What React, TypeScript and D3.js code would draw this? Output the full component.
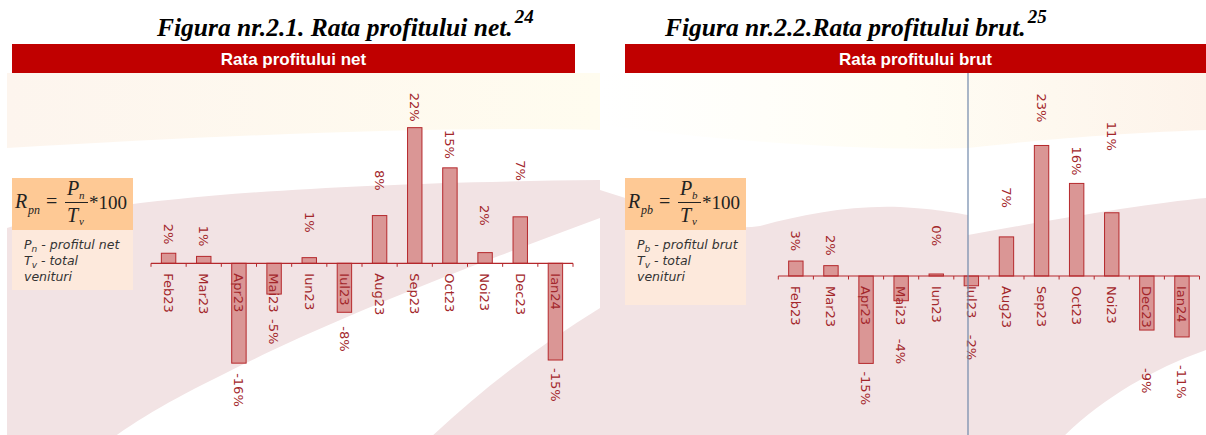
import React from "react";
import * as d3 from "d3";

// Months shown on both charts
const months = ["Feb23", "Mar23", "Apr23", "Mai23", "Iun23", "Iul23", "Aug23", "Sep23", "Oct23", "Noi23", "Dec23", "Ian24"];

// Net profit rate, % (labels show the rounded value)
const netRate = [1.6, 1.1, -15.9, -4.9, 0.9, -7.8, 7.6, 21.6, 15.2, 1.7, 7.4, -15.4];
// Gross profit rate, %
const grossRate = [2.6, 1.8, -15.2, -4.3, 0.35, -1.7, 6.8, 22.7, 16.1, 11.0, -9.4, -10.6];

// Distance (px) between a bar end and its value label
const netLabelGap = [9, 10, 10, 25, 25, 14, 25, 6, 9, 27, 36, 8];
const grossLabelGap = [10, 10, 8, 38, 28, 49, 29, 23, 8, 62, 38, 28];

const W = 1206;
const H = 435;
const RED = "#c00000";
const LABEL = "#a3272b";
const BAR_FILL = "#da9695";
const BAR_STROKE = "#b5282c";
const PINK = "#f2e3e4";
const SANS = "DejaVu Sans";
const SERIF = "Liberation Serif";

const fmt = (v: number) => `${Math.round(v)}%`;

type BarsProps = {
  values: number[];
  gaps: number[];
  x0: number;
  x1: number;
  baseline: number;
  pxPerPct: number;
};

function Bars({ values, gaps, x0, x1, baseline, pxPerPct }: BarsProps) {
  const x = d3.scaleBand<string>().domain(months).range([x0, x1]).paddingInner(0.59).paddingOuter(0.295);
  const y = d3
    .scaleLinear()
    .domain([-20, 25])
    .range([baseline + 20 * pxPerPct, baseline - 25 * pxPerPct]);
  const step = x.step();
  const ticks = d3.range(months.length + 1).map((i) => x0 + i * step);
  const y0 = y(0);
  return (
    <g>
      {months.map((m, i) => {
        const v = values[i];
        const top = Math.min(y(v), y0);
        const h = Math.abs(y(v) - y0);
        return (
          <rect
            key={m}
            x={x(m)}
            y={top}
            width={x.bandwidth()}
            height={Math.max(h, 0.5)}
            fill={BAR_FILL}
            stroke={BAR_STROKE}
            strokeWidth={1}
          />
        );
      })}
      <line x1={x0} x2={x1} y1={y0} y2={y0} stroke={BAR_STROKE} strokeWidth={1.2} />
      {ticks.map((t, i) => (
        <line key={i} x1={t} x2={t} y1={y0} y2={y0 + 3.5} stroke={BAR_STROKE} strokeWidth={1} />
      ))}
      {months.map((m) => {
        const cx = (x(m) ?? 0) + x.bandwidth() / 2;
        return (
          <text
            key={m}
            transform={`translate(${cx},${y0 + 10}) rotate(90)`}
            dy="0.36em"
            fontFamily={SANS}
            fontSize={13}
            fill={LABEL}
          >
            {m}
          </text>
        );
      })}
      {months.map((m, i) => {
        const v = values[i];
        const cx = (x(m) ?? 0) + x.bandwidth() / 2;
        const pos = v >= 0;
        const ly = pos ? y(v) - gaps[i] : y(v) + gaps[i];
        return (
          <text
            key={m}
            transform={`translate(${cx},${ly}) rotate(90)`}
            dy="0.36em"
            textAnchor={pos ? "end" : "start"}
            fontFamily={SANS}
            fontSize={13}
            fill={LABEL}
          >
            {fmt(v)}
          </text>
        );
      })}
    </g>
  );
}

function Title({ x, text, sup }: { x: number; text: string; sup: string }) {
  return (
    <text x={x} y={36} fontFamily={SERIF} fontWeight="bold" fontStyle="italic" fontSize={25.5} fill="#000">
      {text}
      <tspan dx={2} dy={-13} fontSize={19}>
        {sup}
      </tspan>
    </text>
  );
}

function Header({ x, w, text }: { x: number; w: number; text: string }) {
  return (
    <g>
      <rect x={x} y={44} width={w} height={29} fill={RED} />
      <text
        x={x + w / 2}
        y={64.5}
        textAnchor="middle"
        fontFamily="Liberation Sans"
        fontWeight="bold"
        fontSize={17}
        fill="#fff"
      >
        {text}
      </text>
    </g>
  );
}

function Formula({ x, y, sub, top, legend, lightH }: { x: number; y: number; sub: string; top: string; legend: string; lightH: number }) {
  const it = { fontFamily: SERIF, fontStyle: "italic" as const, fill: "#222" };
  return (
    <g>
      <rect x={x} y={y} width={121} height={52} fill="#fec995" />
      <rect x={x} y={y + 52} width={121} height={lightH} fill="#fde9dc" />
      <text x={x + 3} y={y + 30} fontSize={20} {...it}>R</text>
      <text x={x + 16} y={y + 36} fontSize={12} {...it}>{sub}</text>
      <text x={x + 34} y={y + 30} fontSize={20} fontFamily={SERIF} fill="#222">=</text>
      <text x={x + 55} y={y + 17} fontSize={20} {...it}>P</text>
      <text x={x + 67} y={y + 21} fontSize={11} {...it}>{top}</text>
      <line x1={x + 53} x2={x + 76} y1={y + 24.5} y2={y + 24.5} stroke="#222" strokeWidth={1} />
      <text x={x + 55} y={y + 44} fontSize={20} {...it}>T</text>
      <text x={x + 67} y={y + 47} fontSize={11} {...it}>v</text>
      <text x={x + 77} y={y + 31} fontSize={19} fontFamily={SERIF} fill="#222">
        *100
      </text>
      <g fontFamily={SANS} fontStyle="italic" fontSize={12.5} fill="#333">
        <text x={x + 12} y={y + 71}>
          P<tspan fontSize={9} dy={3}>{top}</tspan>
          <tspan dy={-3}> - profitul {legend}</tspan>
        </text>
        <text x={x + 12} y={y + 87}>
          T<tspan fontSize={9} dy={3}>v</tspan>
          <tspan dy={-3}> - total</tspan>
        </text>
        <text x={x + 12} y={y + 103}>venituri</text>
      </g>
    </g>
  );
}

export default function App() {
  return (
    <svg
      width={W}
      height={H}
      viewBox={`0 0 ${W} ${H}`}
      style={{ position: "absolute", left: 0, top: 0, display: "block", background: "#fff" }}
    >
      <defs>
        <linearGradient id="beigeL" x1="0" x2="1" y1="0" y2="0">
          <stop offset="0" stopColor="#fdf5ee" />
          <stop offset="1" stopColor="#fffcef" />
        </linearGradient>
        <linearGradient id="beigeR" x1="0" x2="1" y1="0" y2="0">
          <stop offset="0" stopColor="#ffffff" />
          <stop offset="0.5" stopColor="#fffdf4" />
          <stop offset="1" stopColor="#fdf3ea" />
        </linearGradient>
        <clipPath id="clipL">
          <rect x={7} y={73} width={593} height={H - 73} />
        </clipPath>
        <clipPath id="clipR">
          <rect x={600} y={73} width={W - 600} height={H - 73} />
        </clipPath>
      </defs>

      {/* decorative backdrop, left chart */}
      <g clipPath="url(#clipL)">
        <path d="M7,73 H600 V130 C 450,126 250,134 7,148 Z" fill="url(#beigeL)" />
        <path
          d="M7,228 C 100,200 300,183 600,180 V218 C 500,255 380,300 273,350 C 200,385 150,410 110,440 H7 Z"
          fill={PINK}
        />
        <path d="M600,308 C 540,345 480,390 428,440 H600 Z" fill={PINK} />
      </g>

      {/* decorative backdrop, right chart */}
      <g clipPath="url(#clipR)">
        <path d="M600,73 H1206 V130 C 1100,134 1020,142 968,148 C 850,152 700,138 600,125 Z" fill="url(#beigeR)" />
        <path
          d="M600,190 C 680,215 720,232 760,226 C 800,215 850,205 900,207 C 940,209 960,214 968,215 L968,235 C 1050,220 1150,203 1206,198 V350 C 1150,370 1100,400 1060,440 H600 Z"
          fill={PINK}
        />
      </g>

      <Title x={157} text="Figura nr.2.1. Rata profitului net." sup="24" />
      <Title x={665} text="Figura nr.2.2.Rata profitului brut." sup="25" />

      <Header x={12} w={563} text="Rata profitului net" />
      <Header x={625} w={W - 625} text="Rata profitului brut" />

      <Formula x={12} y={178} sub="pn" top="n" legend="net" lightH={60} />
      <Formula x={625} y={178} sub="pb" top="b" legend="brut" lightH={75} />

      <Bars values={netRate} gaps={netLabelGap} x0={151} x1={573} baseline={263.3} pxPerPct={6.28} />
      <Bars values={grossRate} gaps={grossLabelGap} x0={778.3} x1={1199.5} baseline={276} pxPerPct={5.75} />

      <line x1={968} x2={968} y1={73} y2={H} stroke="#7088aa" strokeWidth={1.2} />
    </svg>
  );
}
